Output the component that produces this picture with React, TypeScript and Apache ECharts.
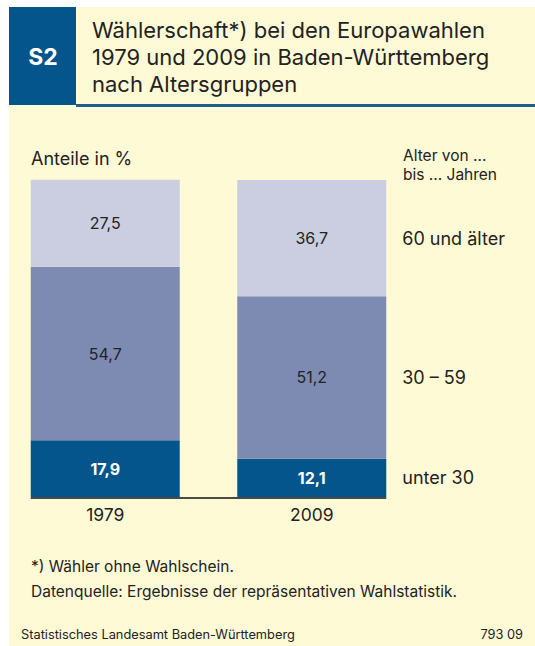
import React, { useEffect, useRef } from "react";
import * as echarts from "echarts";

const years = ["1979", "2009"];
const groups = ["unter 30", "30 – 59", "60 und älter"];
const under30 = [17.9, 12.1];
const age30to59 = [54.7, 51.2];
const over60 = [27.5, 36.7];
const colors = ["#03558B", "#7D8BB3", "#CBCEE0"];
const labelColors = ["#ffffff", "#222222", "#222222"];

const FONT = "Inter";
const CREAM = "#FEFAD6";
const BLUE = "#03558B";

export default function App() {
  const ref = useRef<HTMLDivElement>(null);
  useEffect(() => {
    if (!ref.current) return;
    const chart = echarts.init(ref.current, null, { renderer: "svg" });
    const seriesData = [under30, age30to59, over60];
    const barWidth = 149;
    const option: any = {
      animation: false,
      grid: { left: 2, right: 120, top: 180, bottom: 149, containLabel: false },
      xAxis: {
        type: "category",
        data: years,
        axisLine: { show: false },
        axisTick: { show: false },
        axisLabel: { color: "#222", fontFamily: FONT, fontSize: 17.5, margin: 8 },
      },
      yAxis: { type: "value", min: 0, max: 100, show: false },
      series: seriesData.map((d, i) => ({
        type: "bar",
        name: groups[i],
        stack: "s",
        barWidth,
        clip: false,
        data: d,
        itemStyle: { color: colors[i] },
        label: {
          show: true,
          position: "inside",
          color: labelColors[i],
          fontFamily: FONT,
          fontSize: 16,
          fontWeight: i === 0 ? "bold" : "normal",
          formatter: (p: any) => String(p.value).replace(".", ","),
        },
      })),
    };
    chart.setOption(option);

    const c0 = chart.convertToPixel({ gridIndex: 0 }, [0, 0]) as number[];
    const c1 = chart.convertToPixel({ gridIndex: 0 }, [1, 0]) as number[];
    const left = c0[0] - barWidth / 2;
    const right = c1[0] + barWidth / 2;
    const baseY = c0[1];
    let cum = 0;
    const groupTexts: any[] = [];
    seriesData.forEach((d, i) => {
      const mid = cum + d[1] / 2;
      cum += d[1];
      const p = chart.convertToPixel({ gridIndex: 0 }, [1, mid]) as number[];
      groupTexts.push({
        type: "text",
        x: right + 16,
        y: p[1],
        style: {
          text: groups[i],
          fill: "#222",
          font: `18px "${FONT}"`,
          textVerticalAlign: "middle",
        },
      });
    });

    const txt = (text: string, x: number, y: number, size: number, extra: any = {}) => ({
      type: "text",
      x,
      y,
      style: {
        text,
        fill: "#222",
        font: `${extra.weight || "normal"} ${size}px "${FONT}"`,
        textVerticalAlign: "middle",
        textAlign: extra.align || "left",
        ...(extra.style || {}),
      },
      z: 10,
    });

    chart.setOption({
      graphic: [
        { type: "rect", shape: { x: 9, y: 7, width: 526, height: 639 }, style: { fill: CREAM }, z: -10 },
        { type: "rect", shape: { x: 9, y: 7, width: 67, height: 98 }, style: { fill: BLUE }, z: -5 },
        { type: "rect", shape: { x: 76, y: 104, width: 459, height: 3 }, style: { fill: "#1F5E8E" }, z: -5 },
        txt("S2", 43, 57, 23, { weight: "bold", align: "center", style: { fill: "#ffffff" } }),
        txt("Wählerschaft*) bei den Europawahlen", 92, 30, 22),
        txt("1979 und 2009 in Baden-Württemberg", 92, 57, 22),
        txt("nach Altersgruppen", 92, 84, 22),
        txt("Anteile in %", 31, 158, 18),
        txt("Alter von ...", 403, 155.5, 15.5),
        txt("bis ... Jahren", 403, 174.5, 15.5),
        {
          type: "line",
          shape: { x1: left, y1: baseY + 1, x2: right, y2: baseY + 1 },
          style: { stroke: "#4A4A48", lineWidth: 2 },
          z: 10,
        },
        ...groupTexts,
        txt("*) Wähler ohne Wahlschein.", 31, 566, 15.5),
        txt("Datenquelle: Ergebnisse der repräsentativen Wahlstatistik.", 31, 591, 15.5),
        txt("Statistisches Landesamt Baden-Württemberg", 21, 634, 12.8),
        txt("793 09", 523, 634, 12.8, { align: "right" }),
      ],
    });

    return () => chart.dispose();
  }, []);
  return (
    <div
      ref={ref}
      style={{ position: "absolute", left: 0, top: 0, width: 535, height: 646, background: "#ffffff" }}
    />
  );
}
